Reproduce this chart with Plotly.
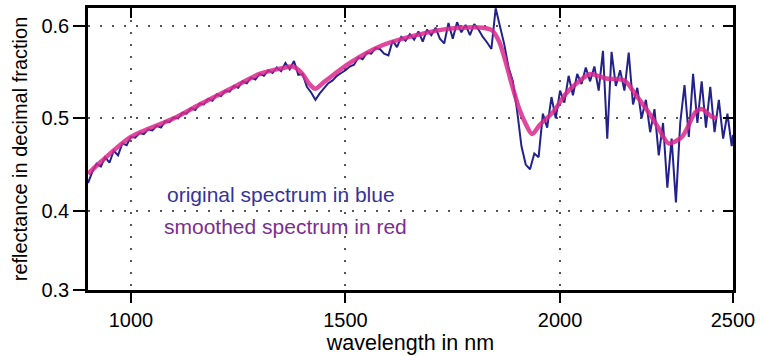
import plotly.graph_objects as go

# ---------------- data ----------------
# smoothed spectrum (anchor points)
smooth_wl = [900, 930, 1000, 1100, 1160, 1240, 1300, 1350, 1377, 1398, 1416, 1430, 1452,
             1510, 1586, 1665, 1742, 1820, 1842, 1858, 1872, 1888, 1905, 1921, 1935, 1953,
             1984, 2016, 2050, 2070, 2107, 2150, 2177, 2207, 2230, 2253, 2284, 2316, 2330,
             2353, 2365]
smooth_val = [0.440, 0.453, 0.480, 0.500, 0.515, 0.534, 0.548, 0.554, 0.556, 0.549, 0.537,
              0.532, 0.540, 0.560, 0.579, 0.590, 0.597, 0.598, 0.595, 0.583, 0.563, 0.536,
              0.510, 0.493, 0.483, 0.493, 0.507, 0.528, 0.542, 0.548, 0.543, 0.541, 0.525,
              0.506, 0.489, 0.473, 0.480, 0.507, 0.510, 0.502, 0.500]

# original (noisy) spectrum, 10 nm sampling
orig_wl = list(range(900, 2401, 10)) + [2403]
orig_val = [
    0.430, 0.442, 0.451, 0.448, 0.458, 0.452, 0.465, 0.460, 0.473, 0.471,
    0.480, 0.479, 0.484, 0.483, 0.488, 0.487, 0.492, 0.490, 0.497, 0.496,
    0.501, 0.500, 0.506, 0.505, 0.511, 0.509, 0.516, 0.515, 0.521, 0.519,
    0.526, 0.524, 0.530, 0.529, 0.535, 0.533, 0.540, 0.538, 0.544, 0.542,
    0.548, 0.546, 0.552, 0.549, 0.555, 0.551, 0.560, 0.553, 0.562, 0.547,
    0.548, 0.534, 0.528, 0.520, 0.527, 0.532, 0.538, 0.541, 0.546, 0.549,
    0.552, 0.556, 0.558, 0.566, 0.564, 0.571, 0.570, 0.576, 0.575, 0.570,
    0.568, 0.584, 0.577, 0.588, 0.584, 0.591, 0.585, 0.594, 0.583, 0.596,
    0.590, 0.598, 0.586, 0.581, 0.603, 0.586, 0.604, 0.593, 0.601, 0.590,
    0.602, 0.596, 0.588, 0.582, 0.575, 0.619, 0.600, 0.580, 0.555, 0.540,
    0.508, 0.470, 0.450, 0.445, 0.462, 0.458, 0.505, 0.490, 0.523, 0.500,
    0.530, 0.517, 0.546, 0.525, 0.548, 0.537, 0.555, 0.540, 0.556, 0.530,
    0.573, 0.478, 0.572, 0.535, 0.552, 0.530, 0.571, 0.515, 0.533, 0.500,
    0.520, 0.485, 0.510, 0.460, 0.495, 0.425, 0.478, 0.409, 0.495, 0.536,
    0.480, 0.548, 0.495, 0.540, 0.490, 0.534, 0.485, 0.520, 0.478, 0.505, 0.470,
    0.482,
]

x_tickvals = [1000, 1500, 2000, 2403]
x_ticktext = ["1000", "1500", "2000", "2500"]
y_tickvals = [0.3144, 0.4, 0.5, 0.6]
y_ticktext = ["0.3", "0.4", "0.5", "0.6"]
x_range = [900, 2403]
y_range = [0.3144, 0.6193]

FONT = "Liberation Sans, Arial, Helvetica, sans-serif"
GRID = dict(showgrid=True, gridcolor="#555555", gridwidth=2, griddash="2px,10px")

fig = go.Figure()
fig.add_trace(go.Scatter(x=orig_wl, y=orig_val, mode="lines",
                         line=dict(color="#22228a", width=2), showlegend=False))
fig.add_trace(go.Scatter(x=smooth_wl, y=smooth_val, mode="lines",
                         line=dict(color="rgba(218,40,140,0.85)", width=4.5, shape="spline",
                                   smoothing=0.8),
                         showlegend=False))
# invisible trace on mirror axes so inner ticks are drawn
fig.add_trace(go.Scatter(x=[x_range[0]], y=[y_range[0]], xaxis="x2", yaxis="y2",
                         mode="markers", marker=dict(opacity=0), showlegend=False,
                         hoverinfo="skip"))

fig.update_layout(
    width=760, height=356,
    margin=dict(l=88, r=23, t=5, b=66),
    paper_bgcolor="white", plot_bgcolor="white",
    font=dict(family=FONT, size=20, color="black"),
    xaxis=dict(range=x_range, tickvals=x_tickvals, ticktext=x_ticktext,
               ticks="outside", ticklen=10, tickwidth=1.5, tickcolor="black",
               showline=True, linecolor="black", linewidth=2.5, mirror=True,
               zeroline=False,
               title=dict(text="wavelength in nm", standoff=5, font=dict(size=21.5)),
               **GRID),
    yaxis=dict(range=y_range, tickvals=y_tickvals, ticktext=y_ticktext,
               ticks="outside", ticklen=12, tickwidth=1.5, tickcolor="black",
               showline=True, linecolor="black", linewidth=2.5, mirror=True,
               zeroline=False,
               title=dict(text="reflectance in decimal fraction", standoff=9,
                          font=dict(size=20)),
               **GRID),
    xaxis2=dict(range=x_range, overlaying="x", side="top", tickvals=[1000, 1500, 2000],
                ticks="inside", ticklen=10, tickwidth=1.5, tickcolor="black",
                showticklabels=False, showgrid=False, zeroline=False, showline=False),
    yaxis2=dict(range=y_range, overlaying="y", side="right", tickvals=[0.4, 0.5, 0.6],
                ticks="inside", ticklen=10, tickwidth=1.5, tickcolor="black",
                showticklabels=False, showgrid=False, zeroline=False, showline=False),
    annotations=[
        dict(text="original spectrum in blue", xref="paper", yref="paper",
             x=0.120, y=0.340, xanchor="left", yanchor="middle", showarrow=False,
             font=dict(family=FONT, size=21, color="#34349a")),
        dict(text="smoothed spectrum in red", xref="paper", yref="paper",
             x=0.114, y=0.225, xanchor="left", yanchor="middle", showarrow=False,
             font=dict(family=FONT, size=21, color="#7a2e90")),
    ],
)

fig.write_html("out.html")
